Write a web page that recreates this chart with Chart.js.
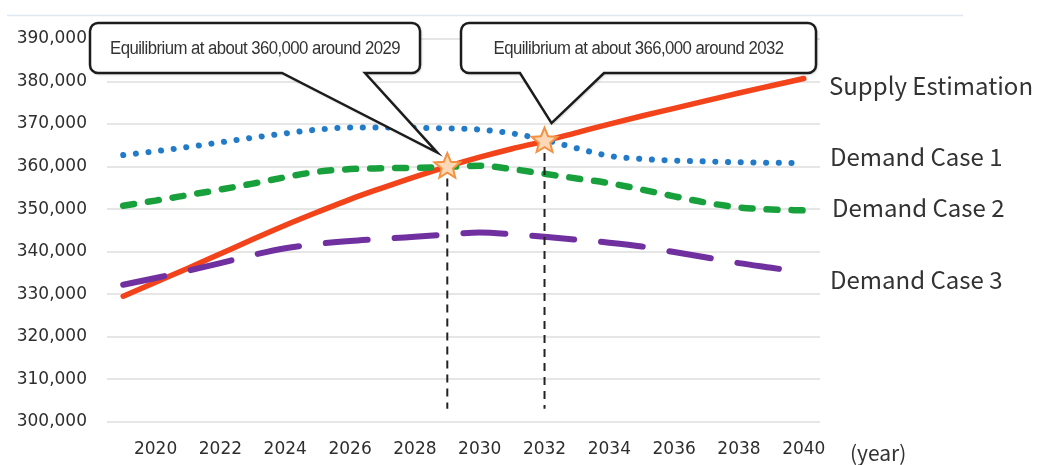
<!DOCTYPE html>
<html>
<head>
<meta charset="utf-8">
<script src="https://cdn.jsdelivr.net/npm/chart.js@4.4.1/dist/chart.umd.min.js"></script>
<style>
  html, body { margin: 0; padding: 0; background: #fff; }
  #wrap { position: relative; width: 1038px; height: 465px; }
</style>
</head>
<body>
<div id="wrap"><canvas id="supplyChart" width="1038" height="465"></canvas></div>
<script>
const years = [2019, 2020, 2021, 2022, 2023, 2024, 2025, 2026, 2027, 2028, 2029,
  2030, 2031, 2032, 2033, 2034, 2035, 2036, 2037, 2038, 2039, 2040];

const supply = [329500, 332800, 336100, 339500, 342900, 346200, 349300, 352300, 355000, 357600, 360000,
  362200, 364200, 366000, 368000, 370000, 371900, 373700, 375500, 377300, 379000, 380700];
const demand1 = [362700, 363600, 364600, 365700, 366800, 367800, 368700, 369200, 369200, 369100, 369000,
  368700, 367800, 366300, 364300, 362500, 361800, 361400, 361200, 361000, 360900, 360800];
const demand2 = [350800, 352000, 353300, 354600, 356000, 357500, 358800, 359400, 359600, 359700, 359900,
  360200, 359400, 358300, 357200, 356100, 354600, 353000, 351500, 350400, 349900, 349700];
const demand3 = [332200, 333800, 335500, 337300, 339200, 340800, 341800, 342500, 343000, 343500, 344000,
  344500, 344100, 343500, 342800, 342100, 341200, 339900, 338600, 337300, 336200, 335100];

const seriesNames = ["Supply Estimation", "Demand Case 1", "Demand Case 2", "Demand Case 3"];
const yMin = 300000, yMax = 390000, yStep = 10000;

const eqYears = [2029, 2032];
const eqValues = [360000, 366000];
const calloutTexts = ["Equilibrium at about 360,000 around 2029", "Equilibrium at about 366,000 around 2032"];

const tickFont = { family: "'DejaVu Sans'", size: 17 };

function drawStar(ctx, cx, cy, rOut, rIn) {
  ctx.beginPath();
  for (let i = 0; i < 10; i++) {
    const r = i % 2 === 0 ? rOut : rIn;
    const a = -Math.PI / 2 + i * Math.PI / 5;
    const px = cx + r * Math.cos(a), py = cy + r * Math.sin(a);
    if (i === 0) ctx.moveTo(px, py); else ctx.lineTo(px, py);
  }
  ctx.closePath();
  ctx.fillStyle = "#fdd8b6";
  ctx.fill();
  ctx.lineWidth = 2;
  ctx.strokeStyle = "#f39243";
  ctx.stroke();
}

// rounded box with a pointer coming out of its bottom edge
function callout(ctx, box, text, tip) {
  const { x, y, w, h, bl, br } = box;
  const r = 8;
  ctx.save();
  ctx.beginPath();
  ctx.moveTo(x + r, y);
  ctx.lineTo(x + w - r, y);
  ctx.arcTo(x + w, y, x + w, y + r, r);
  ctx.lineTo(x + w, y + h - r);
  ctx.arcTo(x + w, y + h, x + w - r, y + h, r);
  ctx.lineTo(br, y + h);
  ctx.lineTo(tip.x, tip.y);
  ctx.lineTo(bl, y + h);
  ctx.lineTo(x + r, y + h);
  ctx.arcTo(x, y + h, x, y + h - r, r);
  ctx.lineTo(x, y + r);
  ctx.arcTo(x, y, x + r, y, r);
  ctx.closePath();
  ctx.shadowColor = "rgba(0,0,0,0.35)";
  ctx.shadowBlur = 3;
  ctx.shadowOffsetX = 1;
  ctx.shadowOffsetY = 1;
  ctx.fillStyle = "#fff";
  ctx.fill();
  ctx.shadowColor = "transparent";
  ctx.lineWidth = 2.5;
  ctx.lineJoin = "miter";
  ctx.strokeStyle = "#1c1c1c";
  ctx.stroke();
  ctx.fillStyle = "#333";
  ctx.font = "18px 'Liberation Sans', Arial, sans-serif";
  ctx.letterSpacing = "-0.6px";
  ctx.textAlign = "center";
  ctx.textBaseline = "middle";
  ctx.fillText(text, x + w / 2, y + h / 2 + 1, 290);
  ctx.restore();
}

const overlay = {
  id: "overlay",
  afterDatasetsDraw(chart) {
    const { ctx, scales, chartArea } = chart;
    const pts = eqYears.map((yr, i) => ({
      x: scales.x.getPixelForValue(years.indexOf(yr)),
      y: scales.y.getPixelForValue(eqValues[i])
    }));

    // drop lines from each equilibrium point
    ctx.save();
    ctx.setLineDash([8, 6]);
    ctx.lineWidth = 2;
    ctx.strokeStyle = "#222";
    pts.forEach(p => {
      ctx.beginPath();
      ctx.moveTo(p.x, p.y + 12);
      ctx.lineTo(p.x, chartArea.bottom - 13);
      ctx.stroke();
    });
    ctx.restore();

    pts.forEach(p => drawStar(ctx, p.x, p.y, 13.5, 6));

    callout(ctx, { x: 90, y: 23, w: 330, h: 50, bl: 282, br: 365 }, calloutTexts[0],
      { x: pts[0].x - 10, y: pts[0].y - 14 });
    callout(ctx, { x: 461, y: 23, w: 355, h: 50, bl: 520, br: 604 }, calloutTexts[1],
      { x: pts[1].x + 7, y: pts[1].y - 18 });

    // top rule, series names and unit
    ctx.save();
    ctx.strokeStyle = "#dde8f1";
    ctx.lineWidth = 1.5;
    ctx.beginPath();
    ctx.moveTo(7, 15.5);
    ctx.lineTo(963, 15.5);
    ctx.stroke();

    ctx.fillStyle = "#333";
    ctx.font = "24px 'Noto Sans CJK JP'";
    ctx.textBaseline = "middle";
    ctx.textAlign = "left";
    const nameX = [829, 830, 832, 830];
    const nameY = [86, 157, 208, 280];
    seriesNames.forEach((n, i) => ctx.fillText(n, nameX[i], nameY[i], 206));
    ctx.font = "21px 'Noto Sans CJK JP'";
    ctx.fillText("(year)", 850, 453);
    ctx.restore();
  }
};

const ctx = document.getElementById("supplyChart").getContext("2d");

new Chart(ctx, {
  type: "line",
  data: {
    labels: years,
    datasets: [
      {
        label: seriesNames[1],
        data: demand1,
        borderColor: "#217bc8",
        borderWidth: 6,
        borderDash: [0.1, 12.6],
        borderCapStyle: "round",
        cubicInterpolationMode: "monotone",
        pointRadius: 0
      },
      {
        label: seriesNames[2],
        data: demand2,
        borderColor: "#18a03c",
        borderWidth: 6.5,
        borderDash: [11, 14],
        borderCapStyle: "round",
        cubicInterpolationMode: "monotone",
        pointRadius: 0
      },
      {
        label: seriesNames[3],
        data: demand3,
        borderColor: "#7030a0",
        borderWidth: 6,
        borderDash: [42, 27],
        borderCapStyle: "round",
        cubicInterpolationMode: "monotone",
        pointRadius: 0
      },
      {
        label: seriesNames[0],
        data: supply,
        borderColor: "#f3431b",
        borderWidth: 5.5,
        borderCapStyle: "round",
        cubicInterpolationMode: "monotone",
        pointRadius: 0
      }
    ]
  },
  options: {
    responsive: false,
    animation: false,
    layout: { padding: { top: 39, right: 218, left: 0, bottom: 0 } },
    plugins: {
      legend: { display: false },
      tooltip: { enabled: false }
    },
    scales: {
      x: {
        offset: true,
        grid: { display: false },
        border: { display: false },
        ticks: {
          autoSkip: false,
          maxRotation: 0,
          padding: 10,
          color: "#2e2e2e",
          font: tickFont,
          callback: function (val) {
            const yr = this.getLabelForValue(val);
            return yr % 2 === 0 ? String(yr) : "";
          }
        },
        afterFit: s => { s.height = 43.3; }
      },
      y: {
        min: yMin,
        max: yMax,
        grid: { color: "#e6e6e6", lineWidth: 2, drawTicks: false },
        border: { display: false },
        ticks: {
          stepSize: yStep,
          padding: 20,
          color: "#2e2e2e",
          font: tickFont,
          callback: v => v.toLocaleString("en-US")
        },
        afterFit: s => { s.width = 107; }
      }
    }
  },
  plugins: [overlay]
});
</script>
</body>
</html>
